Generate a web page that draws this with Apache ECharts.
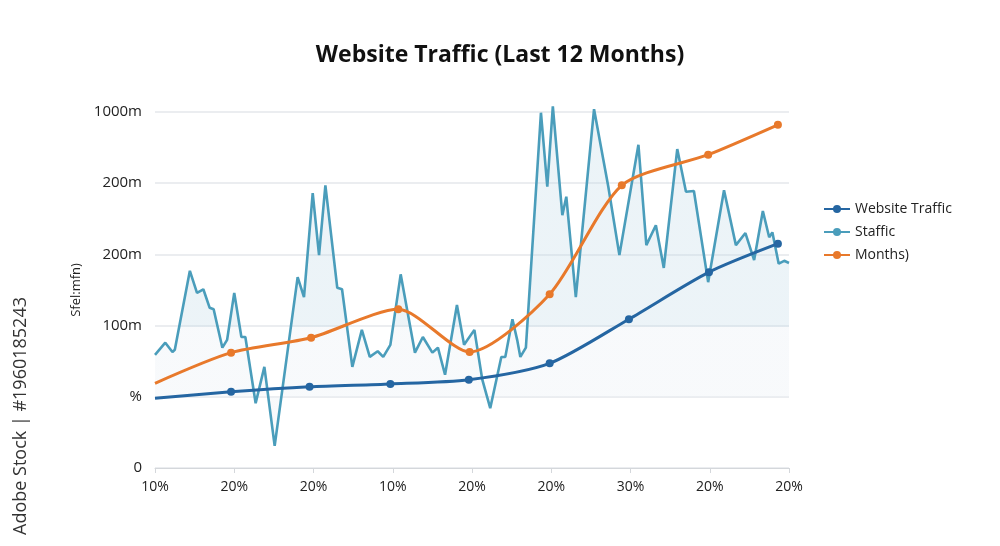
<!DOCTYPE html>
<html>
<head>
<meta charset="utf-8">
<script src="https://cdn.jsdelivr.net/npm/echarts@6/dist/echarts.min.js"></script>
<style>
  html, body { margin: 0; padding: 0; background: #fff; }
  #chart { width: 1000px; height: 546px; }
</style>
</head>
<body>
<div id="chart"></div>
<script>
// axis labels as printed on the picture
const xLabels = ['10%', '20%', '20%', '10%', '20%', '20%', '30%', '20%', '20%'];
const yLabels = ['0', '%', '100m', '200m', '200m', '1000m'];

// Website Traffic (dark blue)
const trafficX = [0, 0.96, 1.95, 2.97, 3.96, 4.98, 5.98, 6.99, 7.86];
const trafficY = [0.98, 1.07, 1.14, 1.18, 1.24, 1.47, 2.09, 2.75, 3.15];

// Months) (orange)
const monthsX = [0, 0.96, 1.97, 3.07, 3.97, 4.98, 5.89, 6.98, 7.86];
const monthsY = [1.19, 1.62, 1.83, 2.23, 1.63, 2.44, 3.97, 4.40, 4.82];

// Staffic (teal, jagged)
const stafficX = [0, 0.13, 0.22, 0.25, 0.44, 0.53, 0.61, 0.69, 0.74, 0.85, 0.91, 1.0, 1.09, 1.14,
  1.27, 1.38, 1.51, 1.8, 1.88, 1.99, 2.07, 2.15, 2.3, 2.36, 2.49, 2.61, 2.71, 2.81, 2.88, 2.97,
  3.1, 3.28, 3.38, 3.5, 3.57, 3.66, 3.81, 3.9, 4.03, 4.13, 4.23, 4.37, 4.42, 4.51, 4.57, 4.61,
  4.68, 4.87, 4.95, 5.02, 5.14, 5.19, 5.31, 5.54, 5.72, 5.86, 6.1, 6.2, 6.32, 6.42, 6.59, 6.7,
  6.8, 6.98, 7.18, 7.33, 7.45, 7.56, 7.67, 7.75, 7.79, 7.87, 7.94, 8.0];
const stafficY = [1.59, 1.76, 1.63, 1.66, 2.77, 2.46, 2.51, 2.25, 2.23, 1.69, 1.8, 2.46, 1.84, 1.84,
  0.91, 1.42, 0.31, 2.68, 2.4, 3.86, 2.99, 3.97, 2.53, 2.51, 1.42, 1.94, 1.56, 1.64, 1.56, 1.73,
  2.72, 1.62, 1.84, 1.62, 1.69, 1.31, 2.29, 1.73, 1.94, 1.24, 0.84, 1.56, 1.56, 2.09, 1.8, 1.56,
  1.69, 4.99, 3.95, 5.08, 3.55, 3.81, 2.4, 5.04, 3.95, 2.99, 4.54, 3.13, 3.41, 2.81, 4.48, 3.88,
  3.89, 2.61, 3.9, 3.13, 3.3, 2.92, 3.61, 3.24, 3.31, 2.87, 2.91, 2.88];

const zip = (xs, ys) => xs.map((x, i) => [x, ys[i]]);
// first point of the smooth lines has no dot
const withDots = (xs, ys) => xs.map((x, i) => ({ value: [x, ys[i]], symbol: i === 0 ? 'none' : 'circle' }));

const font = '"Open Sans", "Noto Sans", sans-serif';
const chart = echarts.init(document.getElementById('chart'));

// fill under Staffic: soft blue above the 100m line, near-white band below it
// (global gradient, pixel coords from top of plot 112 to the % line 397)
const stafficFill = new echarts.graphic.LinearGradient(0, 112, 0, 397, [
  { offset: 0, color: 'rgba(190, 216, 230, 0.42)' },
  { offset: 0.752, color: 'rgba(190, 216, 230, 0.42)' },
  { offset: 0.756, color: 'rgba(236, 241, 246, 0.55)' },
  { offset: 1, color: 'rgba(236, 241, 246, 0.55)' }
], true);

chart.setOption({
  backgroundColor: '#fff',
  animation: false,
  textStyle: { fontFamily: font },
  title: {
    text: 'Website Traffic (Last 12 Months)',
    left: 'center',
    top: 39,
    textStyle: { fontSize: 23, fontWeight: 'bold', color: '#111', fontFamily: font }
  },
  legend: {
    orient: 'vertical',
    left: 818,
    top: 197,
    itemGap: 9,
    itemWidth: 26,
    itemHeight: 10,
    textStyle: { fontSize: 14, color: '#222' },
    data: ['Website Traffic', 'Staffic', 'Months)']
  },
  grid: { left: 155, right: 211, top: 112, bottom: 78 },
  xAxis: {
    type: 'value',
    min: 0,
    max: 8,
    interval: 1,
    axisLine: { lineStyle: { color: '#d4d7db' } },
    axisTick: { show: true, length: 5, lineStyle: { color: '#d4d7db' } },
    splitLine: { show: false },
    axisLabel: { fontSize: 14, color: '#222', margin: 12, formatter: v => xLabels[v] }
  },
  yAxis: {
    type: 'value',
    min: 0,
    max: 5,
    interval: 1,
    name: 'Sfel:mfn)',
    nameLocation: 'middle',
    nameRotate: 90,
    nameGap: 70,
    nameTextStyle: { fontSize: 13, color: '#222' },
    axisLine: { show: false },
    axisTick: { show: false },
    splitLine: { lineStyle: { color: '#e4e7eb', width: 1.5 } },
    axisLabel: { fontSize: 15, color: '#222', margin: 13, formatter: v => yLabels[v] }
  },
  graphic: [{
    type: 'text',
    left: 12,
    top: 297,
    rotation: Math.PI / 2,
    style: { text: 'Adobe Stock | #1960185243', fontSize: 18, fill: '#333', fontFamily: font }
  }],
  series: [
    {
      name: 'Staffic',
      type: 'line',
      data: zip(stafficX, stafficY),
      clip: false,
      showSymbol: false,
      symbol: 'circle',
      symbolSize: 8,
      color: '#4a9dbb',
      lineStyle: { width: 2.6, color: '#4a9dbb' },
      areaStyle: { origin: 1, color: stafficFill },
      z: 2
    },
    {
      name: 'Months)',
      type: 'line',
      data: withDots(monthsX, monthsY),
      smooth: 0.25,
      symbol: 'circle',
      symbolSize: 8,
      color: '#e8792b',
      lineStyle: { width: 3, color: '#e8792b' },
      z: 3
    },
    {
      name: 'Website Traffic',
      type: 'line',
      data: withDots(trafficX, trafficY),
      smooth: 0.25,
      symbol: 'circle',
      symbolSize: 8,
      color: '#2566a2',
      lineStyle: { width: 3, color: '#2566a2' },
      z: 4
    }
  ]
});
</script>
</body>
</html>
